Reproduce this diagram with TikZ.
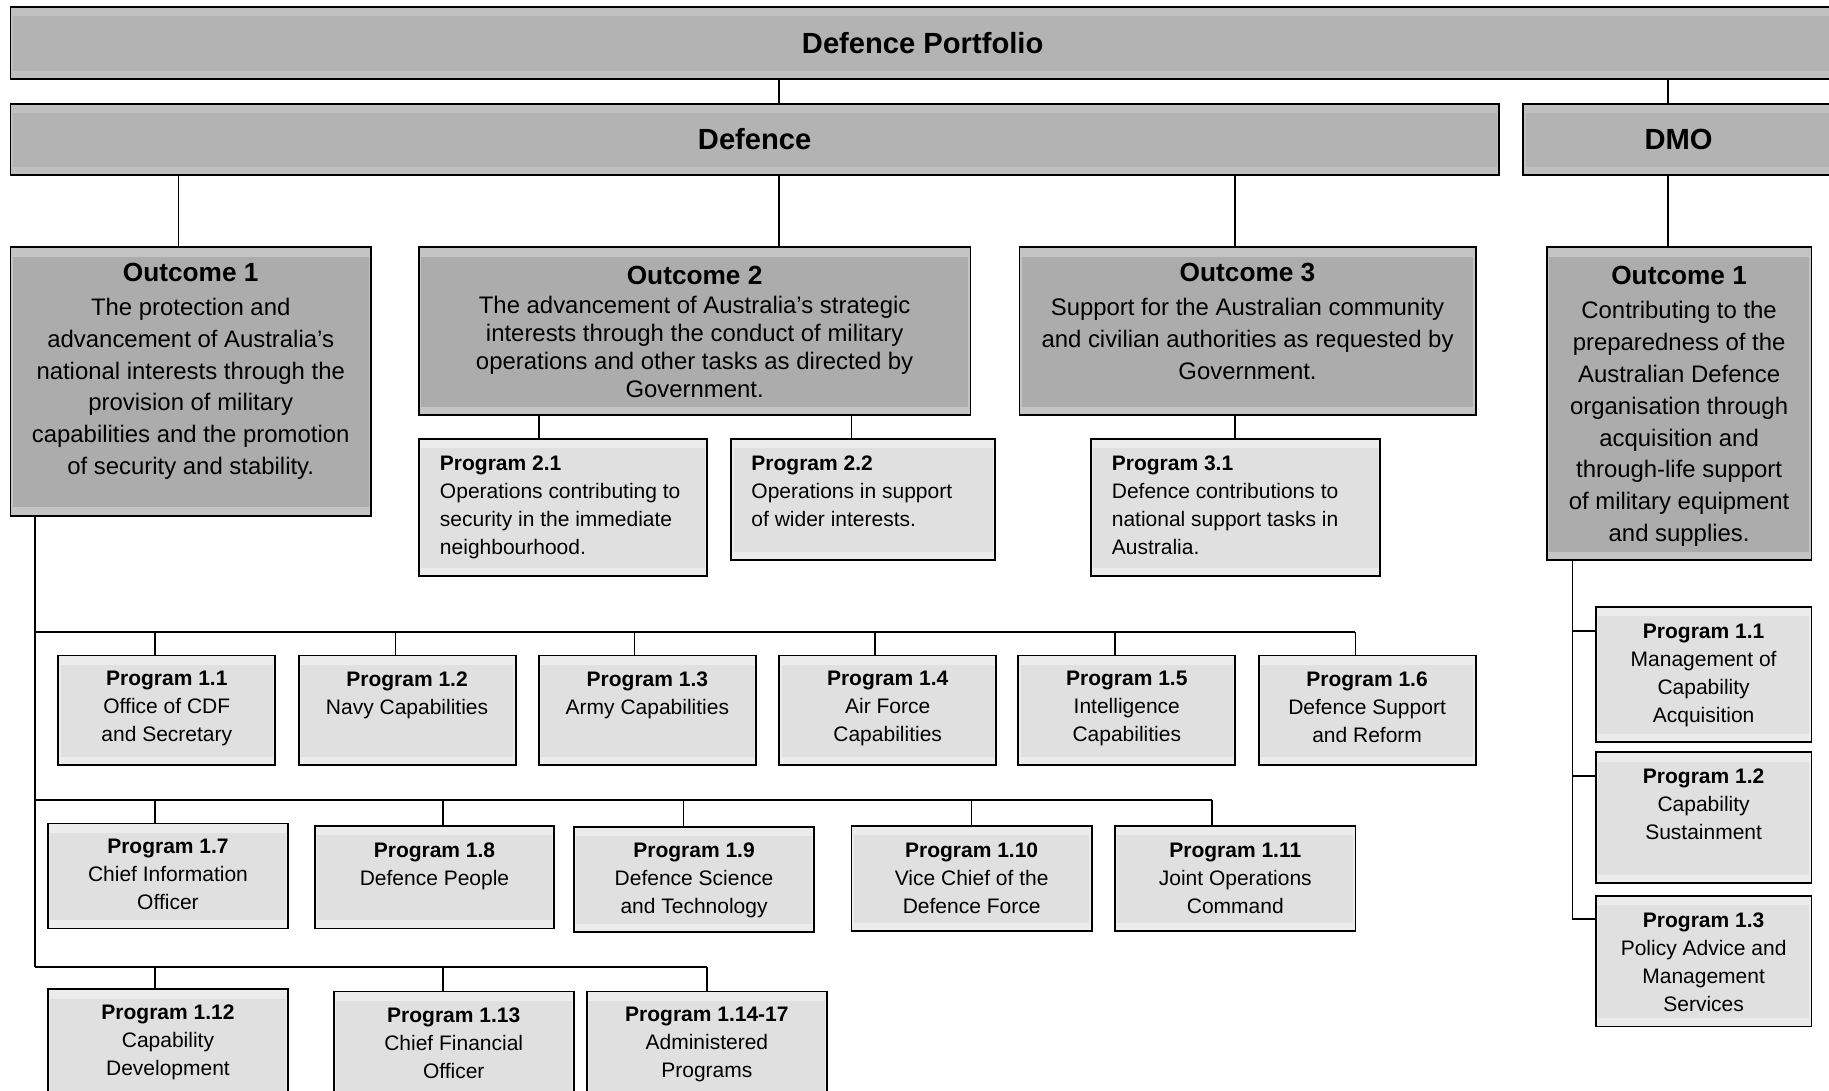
\documentclass[tikz,border=0pt]{standalone}
\usepackage{fontspec}
\setmainfont{Liberation Sans}
\definecolor{bandA}{HTML}{C0C0C0}
\definecolor{innerA}{HTML}{B3B3B3}
\definecolor{bandB}{HTML}{C4C4C4}
\definecolor{innerB}{HTML}{ACACAC}
\definecolor{bandC}{HTML}{ECECEC}
\definecolor{innerC}{HTML}{E0E0E0}
\tikzset{
  boxbase/.style={rectangle, draw=black, line width=1.6pt, inner sep=0pt, outer sep=0pt},
  topbox/.style={boxbase, fill=bandA, font=\fontsize{25}{30}\selectfont\bfseries,
    path picture={\fill[innerA] ([xshift=2pt,yshift=-8pt]path picture bounding box.north west) rectangle ([xshift=-2pt,yshift=7pt]path picture bounding box.south east);}},
  outbox/.style={boxbase, fill=bandB,
    path picture={\fill[innerB] ([xshift=2pt,yshift=-8pt]path picture bounding box.north west) rectangle ([xshift=-2pt,yshift=7pt]path picture bounding box.south east);}},
  progbox/.style={boxbase, fill=bandC,
    path picture={\fill[innerC] ([xshift=2pt,yshift=-8pt]path picture bounding box.north west) rectangle ([xshift=-2pt,yshift=7pt]path picture bounding box.south east);}},
  otxt/.style={inner sep=0pt, align=center, anchor=north, font=\fontsize{20.5}{27.2}\selectfont},
  ptxt/.style={inner sep=0pt, align=center, anchor=north, font=\fontsize{18}{24}\selectfont},
  pltxt/.style={inner sep=0pt, align=left, anchor=north west, font=\fontsize{18}{24}\selectfont},
  conn/.style={draw=black, line width=1.4pt},
}
\newcommand{\mkbox}[7]{%
  \node[#6, minimum width={(#4-#2)*1pt}, minimum height={(#5-#3)*1pt}] (#1) at ({(#2+#4)/2},{(#3+#5)/2}) {#7};}
\newcommand{\otitle}[1]{{\fontsize{22.5}{27}\selectfont\bfseries #1}}
\begin{document}
\begin{tikzpicture}[x=1pt,y=-1pt]
\fill[white] (0,0) rectangle (1568,935);
\useasboundingbox (0,0) rectangle (1568,935);

% top level
\mkbox{port}{9}{6}{1573}{68}{topbox}{Defence Portfolio}
\mkbox{def}{9}{89}{1285}{150}{topbox}{Defence}
\mkbox{dmo}{1306}{89}{1572}{150}{topbox}{DMO}

% outcomes
\mkbox{o1}{9}{212}{318}{442}{outbox}{}
\mkbox{o2}{359}{212}{832}{356}{outbox}{}
\mkbox{o3}{874}{212}{1265}{356}{outbox}{}
\mkbox{dmoo}{1326}{212}{1553}{480}{outbox}{}

\node[otxt] (o1t) at (163.5,225) {\otitle{Outcome 1}\\[2.5pt]The protection and\\advancement of Australia’s\\national interests through the\\provision of military\\capabilities and the promotion\\of security and stability.};
\node[otxt, font=\fontsize{20.5}{24}\selectfont] (o2t) at (595.5,228) {\otitle{Outcome 2}\\[1pt]The advancement of Australia’s strategic\\interests through the conduct of military\\operations and other tasks as directed by\\Government.};
\node[otxt] (o3t) at (1069.5,225) {\otitle{Outcome 3}\\[2.5pt]Support for the Australian community\\and civilian authorities as requested by\\Government.};
\node[otxt, font=\fontsize{20.5}{27.3}\selectfont] (dmoot) at (1439.5,228) {\otitle{Outcome 1}\\[2pt]Contributing to the\\preparedness of the\\Australian Defence\\organisation through\\acquisition and\\through-life support\\of military equipment\\and supplies.};

% outcome 2/3 programs
\mkbox{p21}{359}{376}{606}{494}{progbox}{}
\mkbox{p22}{627}{376}{853}{480}{progbox}{}
\mkbox{p31}{935}{376}{1183}{494}{progbox}{}
\node[pltxt] (p21t) at (377,390.5) {\textbf{Program 2.1}\\Operations contributing to\\security in the immediate\\neighbourhood.};
\node[pltxt] (p22t) at (644,390.5) {\textbf{Program 2.2}\\Operations in support\\of wider interests.};
\node[pltxt] (p31t) at (953,390.5) {\textbf{Program 3.1}\\Defence contributions to\\national support tasks in\\Australia.};

% row 1
\mkbox{p11}{50}{562}{236}{656}{progbox}{}
\mkbox{p12}{256}{562}{442}{656}{progbox}{}
\mkbox{p13}{462}{562}{648}{656}{progbox}{}
\mkbox{p14}{668}{562}{854}{656}{progbox}{}
\mkbox{p15}{873}{562}{1059}{656}{progbox}{}
\mkbox{p16}{1079}{562}{1265}{656}{progbox}{}
\node[ptxt] (p11t) at (143,575.5) {\textbf{Program 1.1}\\Office of CDF\\and Secretary};
\node[ptxt] (p12t) at (349,575.5) {\textbf{Program 1.2}\\Navy Capabilities};
\node[ptxt] (p13t) at (555,575.5) {\textbf{Program 1.3}\\Army Capabilities};
\node[ptxt] (p14t) at (761,575.5) {\textbf{Program 1.4}\\Air Force\\Capabilities};
\node[ptxt] (p15t) at (966,575.5) {\textbf{Program 1.5}\\Intelligence\\Capabilities};
\node[ptxt] (p16t) at (1172,575.5) {\textbf{Program 1.6}\\Defence Support\\and Reform};

% row 2
\mkbox{p17}{41}{706}{247}{796}{progbox}{}
\mkbox{p18}{270}{708}{475}{796}{progbox}{}
\mkbox{p19}{492}{709}{698}{799}{progbox}{}
\mkbox{p110}{730}{708}{936}{798}{progbox}{}
\mkbox{p111}{956}{708}{1162}{798}{progbox}{}
\node[ptxt] (p17t) at (144,719.5) {\textbf{Program 1.7}\\Chief Information\\Officer};
\node[ptxt] (p18t) at (372.5,722.5) {\textbf{Program 1.8}\\Defence People};
\node[ptxt] (p19t) at (595,722.5) {\textbf{Program 1.9}\\Defence Science\\and Technology};
\node[ptxt] (p110t) at (833,722.5) {\textbf{Program 1.10}\\Vice Chief of the\\Defence Force};
\node[ptxt] (p111t) at (1059,722.5) {\textbf{Program 1.11}\\Joint Operations\\Command};

% row 3
\mkbox{p112}{41}{848}{247}{945}{progbox}{}
\mkbox{p113}{286}{850}{492}{945}{progbox}{}
\mkbox{p114}{503}{850}{709}{945}{progbox}{}
\node[ptxt] (p112t) at (144,861.5) {\textbf{Program 1.12}\\Capability\\Development};
\node[ptxt] (p113t) at (389,863.5) {\textbf{Program 1.13}\\Chief Financial\\Officer};
\node[ptxt] (p114t) at (606,863.5) {\textbf{Program 1.14-17}\\Administered\\Programs};

% DMO programs
\mkbox{q11}{1368}{520}{1553}{636}{progbox}{}
\mkbox{q12}{1368}{645}{1553}{757}{progbox}{}
\mkbox{q13}{1368}{768}{1553}{880}{progbox}{}
\node[ptxt] (q11t) at (1460.5,534.5) {\textbf{Program 1.1}\\Management of\\Capability\\Acquisition};
\node[ptxt] (q12t) at (1460.5,658.5) {\textbf{Program 1.2}\\Capability\\Sustainment};
\node[ptxt] (q13t) at (1460.5,782.5) {\textbf{Program 1.3}\\Policy Advice and\\Management\\Services};

% connectors top
\coordinate (xa) at (668,0);
\coordinate (xb) at (1430,0);
\coordinate (xc) at (153,0);
\coordinate (xd) at (1059,0);
\coordinate (xe) at (462,0);
\coordinate (xf) at (730,0);
\draw[conn] (port.south -| xa) -- (def.north -| xa);
\draw[conn] (port.south -| xb) -- (dmo.north -| xb);
\draw[conn] (def.south -| xc) -- (o1.north -| xc);
\draw[conn] (def.south -| xa) -- (o2.north -| xa);
\draw[conn] (def.south -| xd) -- (o3.north -| xd);
\draw[conn] (dmo.south -| xb) -- (dmoo.north -| xb);
\draw[conn] (o2.south -| xe) -- (p21.north -| xe);
\draw[conn] (o2.south -| xf) -- (p22.north -| xf);
\draw[conn] (o3.south -| xd) -- (p31.north -| xd);

% outcome 1 trunk and buses
\coordinate (b1) at (30,542);
\coordinate (b2) at (30,686);
\coordinate (b3) at (30,829);
\draw[conn] (o1.south -| b1) -- (b3);
\foreach \n/\x in {p11/133,p12/339,p13/544,p14/750,p15/956,p16/1162}{
  \coordinate (d\n) at (\x,542);
  \draw[conn] (d\n) -- (\n.north -| d\n);
}
\foreach \n/\x in {p17/133,p18/380,p19/586,p110/833,p111/1039}{
  \coordinate (d\n) at (\x,686);
  \draw[conn] (d\n) -- (\n.north -| d\n);
}
\foreach \n/\x in {p112/133,p113/380,p114/606}{
  \coordinate (d\n) at (\x,829);
  \draw[conn] (d\n) -- (\n.north -| d\n);
}
\draw[conn] (b1) -- (dp16);
\draw[conn] (b2) -- (dp111);
\draw[conn] (b3) -- (dp114);

% DMO trunk
\coordinate (e1) at (1348,541);
\coordinate (e2) at (1348,665);
\coordinate (e3) at (1348,788);
\draw[conn] (dmoo.south -| e1) -- (e3);
\draw[conn] (e1) -- (q11.west |- e1);
\draw[conn] (e2) -- (q12.west |- e2);
\draw[conn] (e3) -- (q13.west |- e3);
\end{tikzpicture}
\end{document}
